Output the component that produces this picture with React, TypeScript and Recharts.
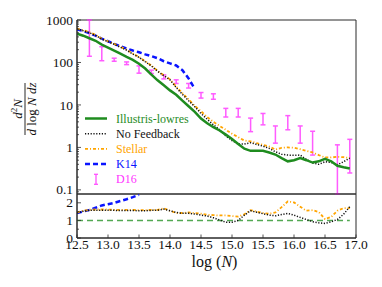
import React from 'react';
import { ComposedChart, Line, Scatter, ErrorBar, XAxis, YAxis, ReferenceLine, ReferenceArea, Legend } from 'recharts';

// ---------- data ----------
const logN = [12.5, 12.6, 12.7, 12.8, 12.9, 13.0, 13.1, 13.2, 13.3, 13.4, 13.5, 13.6, 13.7, 13.8, 13.9, 14.0, 14.1, 14.2, 14.3, 14.4, 14.5, 14.6, 14.7, 14.8, 14.9, 15.0, 15.1, 15.2, 15.3, 15.4, 15.5, 15.6, 15.7, 15.8, 15.9, 16.0, 16.1, 16.2, 16.3, 16.4, 16.5, 16.6, 16.7, 16.8, 16.9];
const illustrisLowres = [479, 427, 372, 324, 263, 224, 191, 162, 135, 115, 93, 72, 52, 38, 29, 22, 17.4, 12.6, 9.3, 6.9, 4.8, 3.7, 3.0, 2.5, 2.0, 1.58, 1.2, 0.93, 0.83, 0.83, 0.83, 0.76, 0.68, 0.56, 0.47, 0.5, 0.56, 0.5, 0.44, 0.47, 0.54, 0.47, 0.37, 0.34, 0.32];
const noFeedback = [620, 560, 500, 435, 355, 310, 268, 228, 195, 158, 132, 104, 83, 62, 49, 39, 25.7, 17.8, 12.6, 9.1, 6.3, 4.6, 3.4, 2.6, 1.86, 1.45, 1.2, 1.2, 1.29, 1.17, 1.07, 0.95, 0.79, 0.69, 0.66, 0.65, 0.66, 0.52, 0.43, 0.40, 0.46, 0.44, 0.39, 0.46, 0.56];
const stellar = [631, 575, 513, 447, 363, 316, 275, 234, 200, 162, 135, 107, 85, 63, 50, 40, 27, 19, 13.5, 9.5, 7.1, 5.2, 4.0, 3.2, 2.6, 2.1, 1.74, 1.45, 1.38, 1.26, 1.15, 1.05, 0.89, 0.98, 1.0, 0.98, 0.91, 0.83, 0.76, 0.66, 0.58, 0.58, 0.6, 0.59, 0.56];
const k14LogN = [12.5, 12.6, 12.7, 12.8, 12.9, 13.0, 13.1, 13.2, 13.3, 13.4, 13.5, 13.6, 13.7, 13.8, 13.9, 14.0, 14.1, 14.2, 14.3, 14.4];
const k14 = [603, 550, 490, 427, 363, 316, 275, 240, 214, 191, 174, 155, 141, 126, 107, 95, 85, 66, 42, 24];
const d16LogN = [12.7, 12.9, 13.1, 13.3, 13.5, 13.7, 13.9, 14.1, 14.3, 14.5, 14.7, 14.9, 15.1, 15.3, 15.5, 15.7, 15.9, 16.1, 16.3, 16.7, 16.9];
const d16Low = [140, 110, 107, 89, 56, 55, 41, 32, 25, 14.5, 13.6, 5.2, 5.2, 2.35, 3.4, 1.26, 2.6, 1.26, 0.66, 0.08, 0.25];
const d16High = [1000, 235, 126, 103, 83, 66, 51, 39, 32, 19.6, 18.3, 8.3, 8.3, 4.9, 6.3, 3.2, 5.6, 3.2, 2.4, 1.15, 1.55];

const ratioNoFeedback = [1.42, 1.52, 1.57, 1.58, 1.58, 1.58, 1.57, 1.56, 1.56, 1.56, 1.55, 1.55, 1.57, 1.58, 1.64, 1.55, 1.45, 1.4, 1.4, 1.36, 1.3, 1.25, 1.15, 1.02, 0.9, 0.9, 1.0, 1.3, 1.55, 1.46, 1.38, 1.3, 1.26, 1.33, 1.4, 1.3, 1.17, 1.05, 0.93, 0.86, 0.83, 0.92, 1.05, 1.35, 1.78];
const ratioStellar = [1.45, 1.55, 1.6, 1.62, 1.62, 1.62, 1.6, 1.6, 1.6, 1.6, 1.58, 1.58, 1.6, 1.6, 1.68, 1.55, 1.42, 1.42, 1.45, 1.42, 1.38, 1.32, 1.3, 1.28, 1.28, 1.25, 1.22, 1.35, 1.58, 1.5, 1.42, 1.38, 1.45, 1.75, 2.08, 2.02, 1.78, 1.55, 1.58, 1.48, 1.08, 1.2, 1.55, 1.7, 1.7];
const k14RatioLogN = [12.5, 12.6, 12.7, 12.8, 12.9, 13.0, 13.1, 13.2, 13.3, 13.4, 13.5];
const ratioK14 = [1.42, 1.5, 1.6, 1.72, 1.85, 1.92, 2.0, 2.1, 2.2, 2.32, 2.45];

const xTicks = [12.5, 13.0, 13.5, 14.0, 14.5, 15.0, 15.5, 16.0, 16.5, 17.0];
const yTicksMajor = [0.1, 1, 10, 100, 1000];
const yTicksMinor = [0.09, 0.2, 0.3, 0.4, 0.5, 0.6, 0.7, 0.8, 0.9, 2, 3, 4, 5, 6, 7, 8, 9, 20, 30, 40, 50, 60, 70, 80, 90, 200, 300, 400, 500, 600, 700, 800, 900];
const ratioTicksMajor = [0, 1, 2];
const ratioTicksMinor = [0.5, 1.5];

// ---------- styles ----------
const AXIS = '#2a2a2a';
const FONT = "'Liberation Serif', 'DejaVu Serif', serif";
const GREEN = '#1f8c1f';
const ORANGE = '#ffa500';
const BLUE = '#0a14ff';
const MAGENTA = '#ff33ff';
const REF_GREEN = '#52a852';

const makeYTick = (side: 'left' | 'right', majors: number[], label: boolean) => (p: any) => {
  const v = p.payload.value;
  const major = majors.indexOf(v) >= 0;
  const len = major ? 4 : 2;
  const dir = side === 'left' ? 1 : -1;
  return (
    <g>
      <line x1={p.x} x2={p.x + dir * len} y1={p.y} y2={p.y} stroke={AXIS} strokeWidth={0.8} />
      {label && major ? (
        <text x={p.x - 4} y={p.y} dy="0.34em" textAnchor="end" fontSize={13.5} fontFamily={FONT} fill="#111">
          {String(v)}
        </text>
      ) : null}
    </g>
  );
};

const makeXTick = (side: 'top' | 'bottom', label: boolean) => (p: any) => {
  const v = p.payload.value;
  const dir = side === 'bottom' ? -1 : 1;
  return (
    <g>
      <line x1={p.x} x2={p.x} y1={p.y} y2={p.y + dir * 3.5} stroke={AXIS} strokeWidth={0.8} />
      {label ? (
        <text x={p.x} y={p.y + 11} textAnchor="middle" fontSize={13.5} fontFamily={FONT} fill="#111">
          {Number(v).toFixed(1)}
        </text>
      ) : null}
    </g>
  );
};

const legendItems = [
  { name: 'Illustris-lowres', color: GREEN, dash: undefined as string | undefined, width: 2.5, kind: 'line' },
  { name: 'No Feedback', color: '#111', dash: '1.2 1.6', width: 1.5, kind: 'line' },
  { name: 'Stellar', color: ORANGE, dash: '3 2 1 2', width: 1.8, kind: 'line' },
  { name: 'K14', color: BLUE, dash: '5 3', width: 2.5, kind: 'line' },
  { name: 'D16', color: MAGENTA, dash: undefined, width: 1.5, kind: 'err' },
];

const renderLegend = () => (
  <svg width={130} height={82}>
    {legendItems.map((it, i) => {
      const y = 10.5 + i * 15.2;
      return (
        <g key={it.name}>
          {it.kind === 'line' ? (
            <line x1={5} x2={27} y1={y} y2={y} stroke={it.color} strokeWidth={it.width} strokeDasharray={it.dash} />
          ) : (
            <g stroke={it.color} strokeWidth={1.3} opacity={0.85}>
              <line x1={16} x2={16} y1={y - 5} y2={y + 5} />
              <line x1={14} x2={18} y1={y - 5} y2={y - 5} />
              <line x1={14} x2={18} y1={y + 5} y2={y + 5} />
            </g>
          )}
          <text x={36} y={y} dy="0.34em" fontSize={12} fontFamily={FONT} fill={it.color}>
            {it.name}
          </text>
        </g>
      );
    })}
  </svg>
);

const yLabel = (props: any) => {
  const vb = props.viewBox || { x: 0, y: 20, width: 77, height: 174 };
  const cy = vb.y + vb.height / 2 + 2;
  return (
    <g transform={`translate(25, ${cy}) rotate(-90)`} fontFamily={FONT} fill="#111">
      <text x={0} y={-3} textAnchor="middle" fontSize={13}>
        <tspan fontStyle="italic">d</tspan>
        <tspan fontSize={9} dy={-5}>2</tspan>
        <tspan fontStyle="italic" dy={5}>N</tspan>
      </text>
      <line x1={-26} x2={26} y1={0} y2={0} stroke="#111" strokeWidth={0.9} />
      <text x={0} y={11} textAnchor="middle" fontSize={13}>
        <tspan fontStyle="italic">d</tspan>
        <tspan> log </tspan>
        <tspan fontStyle="italic">N dz</tspan>
      </text>
    </g>
  );
};

const xLabel = (props: any) => {
  const vb = props.viewBox || { x: 77, y: 44, width: 279, height: 49 };
  const cx = vb.x + vb.width / 2;
  return (
    <text x={cx - 2} y={vb.y + 29} textAnchor="middle" fontSize={16} fontFamily={FONT} fill="#111">
      <tspan>log (</tspan>
      <tspan fontStyle="italic">N</tspan>
      <tspan>)</tspan>
    </text>
  );
};

export default function App() {
  const mainRows = logN.map((n, i) => ({ n, illustris: illustrisLowres[i], noFeedback: noFeedback[i], stellar: stellar[i] }));
  const k14Rows = k14LogN.map((n, i) => ({ n, k14: k14[i] }));
  const d16Rows = d16LogN.map((n, i) => ({ n, y: d16Low[i], err: [0, d16High[i] - d16Low[i]] }));
  const ratioRows = logN.map((n, i) => ({ n, noFeedback: ratioNoFeedback[i], stellar: ratioStellar[i] }));
  const k14RatioRows = k14RatioLogN.map((n, i) => ({ n, k14: ratioK14[i] }));

  return (
    <div style={{ position: 'absolute', left: 0, top: 0, width: 382, height: 287, background: '#fff', fontFamily: FONT }}>
      <div style={{ position: 'absolute', left: 0, top: 0 }}>
        <ComposedChart width={382} height={200} margin={{ top: 20, right: 26, bottom: 6, left: 0 }}>
          <XAxis xAxisId="b" dataKey="n" type="number" domain={[12.5, 17]} ticks={xTicks} allowDataOverflow orientation="bottom" height={0} tickSize={0} tickMargin={0} interval={0} tickLine={false} tick={makeXTick('bottom', false)} axisLine stroke={AXIS} />
          <XAxis xAxisId="t" dataKey="n" type="number" domain={[12.5, 17]} ticks={xTicks} allowDataOverflow orientation="top" height={0} tickSize={0} tickMargin={0} interval={0} tickLine={false} tick={makeXTick('top', false)} axisLine stroke={AXIS} />
          <YAxis yAxisId="l" orientation="left" width={77} scale="log" type="number" domain={[0.08, 1000]} allowDataOverflow ticks={[...yTicksMajor, ...yTicksMinor]} interval={0} tickSize={0} tickMargin={0} tickLine={false} tick={makeYTick('left', yTicksMajor, true)} axisLine stroke={AXIS} label={{ content: yLabel }} />
          <YAxis yAxisId="r" orientation="right" width={0} scale="log" type="number" domain={[0.08, 1000]} allowDataOverflow ticks={[...yTicksMajor, ...yTicksMinor]} interval={0} tickSize={0} tickMargin={0} tickLine={false} tick={makeYTick('right', yTicksMajor, false)} axisLine stroke={AXIS} />
          <ReferenceArea xAxisId="b" yAxisId="l" x1={12.5} x2={17} y1={0.08} y2={1000} fill="none" fillOpacity={0} stroke={AXIS} strokeWidth={1} ifOverflow="visible" />
          <Scatter xAxisId="b" yAxisId="l" data={d16Rows} dataKey="y" isAnimationActive={false} shape={() => <g />}>
            <ErrorBar dataKey="err" direction="y" width={2.5} stroke={MAGENTA} strokeWidth={1.5} opacity={0.8} isAnimationActive={false} />
          </Scatter>
          <Line xAxisId="b" yAxisId="l" data={k14Rows} dataKey="k14" stroke={BLUE} strokeWidth={2.5} strokeDasharray="5 3" dot={false} isAnimationActive={false} />
          <Line xAxisId="b" yAxisId="l" data={mainRows} dataKey="stellar" stroke={ORANGE} strokeWidth={1.8} strokeDasharray="3 2 1 2" dot={false} isAnimationActive={false} />
          <Line xAxisId="b" yAxisId="l" data={mainRows} dataKey="noFeedback" stroke="#111" strokeWidth={1.5} strokeDasharray="1.2 1.6" dot={false} isAnimationActive={false} />
          <Line xAxisId="b" yAxisId="l" data={mainRows} dataKey="illustris" stroke={GREEN} strokeWidth={2.5} dot={false} isAnimationActive={false} />
          <Legend layout="vertical" align="center" verticalAlign="middle" content={renderLegend} wrapperStyle={{ position: 'absolute', left: 80, top: 108, width: 130, height: 82 }} />
        </ComposedChart>
      </div>
      <div style={{ position: 'absolute', left: 0, top: 192 }}>
        <ComposedChart width={382} height={95} margin={{ top: 2, right: 26, bottom: 0, left: 0 }}>
          <XAxis xAxisId="b" dataKey="n" type="number" domain={[12.5, 17]} ticks={xTicks} allowDataOverflow orientation="bottom" height={49} tickSize={0} tickMargin={0} interval={0} tickLine={false} tick={makeXTick('bottom', true)} axisLine stroke={AXIS} label={{ content: xLabel }} />
          <XAxis xAxisId="t" dataKey="n" type="number" domain={[12.5, 17]} ticks={xTicks} allowDataOverflow orientation="top" height={0} tickSize={0} tickMargin={0} interval={0} tickLine={false} tick={makeXTick('top', false)} axisLine stroke={AXIS} />
          <YAxis yAxisId="l" orientation="left" width={77} type="number" domain={[0, 2.5]} allowDataOverflow ticks={[...ratioTicksMajor, ...ratioTicksMinor]} interval={0} tickSize={0} tickMargin={0} tickLine={false} tick={makeYTick('left', ratioTicksMajor, true)} axisLine stroke={AXIS} />
          <YAxis yAxisId="r" orientation="right" width={0} type="number" domain={[0, 2.5]} allowDataOverflow ticks={[...ratioTicksMajor, ...ratioTicksMinor]} interval={0} tickSize={0} tickMargin={0} tickLine={false} tick={makeYTick('right', ratioTicksMajor, false)} axisLine stroke={AXIS} />
          <ReferenceArea xAxisId="b" yAxisId="l" x1={12.5} x2={17} y1={0} y2={2.5} fill="none" fillOpacity={0} stroke={AXIS} strokeWidth={1} ifOverflow="visible" />
          <ReferenceLine xAxisId="b" yAxisId="l" segment={[{ x: 12.5, y: 1 }, { x: 16.9, y: 1 }]} stroke={REF_GREEN} strokeWidth={1.5} strokeDasharray="6 4" />
          <Line xAxisId="b" yAxisId="l" data={k14RatioRows} dataKey="k14" stroke={BLUE} strokeWidth={2.5} strokeDasharray="5 3" dot={false} isAnimationActive={false} />
          <Line xAxisId="b" yAxisId="l" data={ratioRows} dataKey="stellar" stroke={ORANGE} strokeWidth={1.8} strokeDasharray="3 2 1 2" dot={false} isAnimationActive={false} />
          <Line xAxisId="b" yAxisId="l" data={ratioRows} dataKey="noFeedback" stroke="#111" strokeWidth={1.5} strokeDasharray="1.2 1.6" dot={false} isAnimationActive={false} />
        </ComposedChart>
      </div>
    </div>
  );
}
